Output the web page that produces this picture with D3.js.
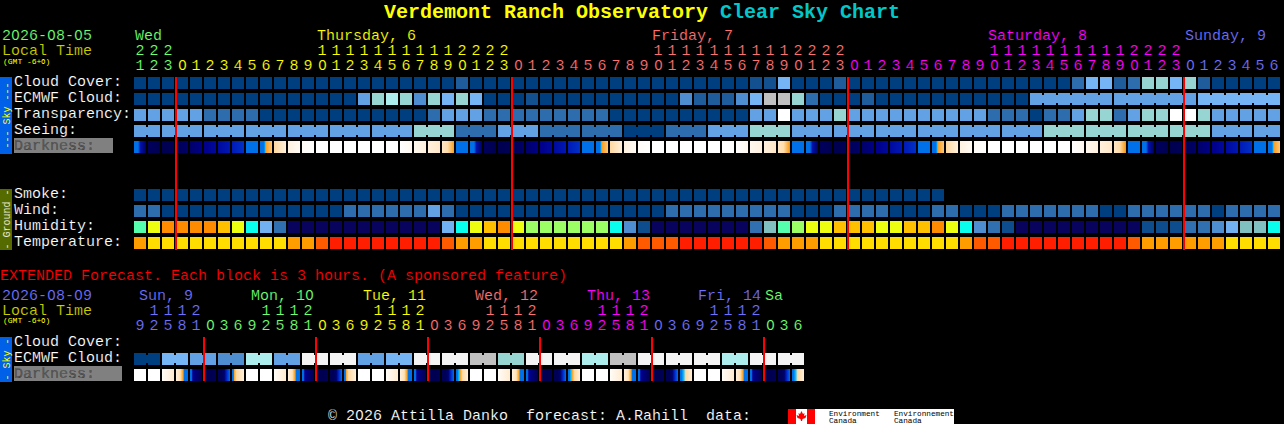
<!DOCTYPE html>
<html><head><meta charset="utf-8">
<style>
@font-face{font-family:PlainZero;src:local("DejaVu Sans");unicode-range:U+30;size-adjust:90%;}
html,body{margin:0;padding:0;background:#000;}
svg{display:block;}
text{font-family:PlainZero,"Liberation Mono",monospace;font-size:15px;white-space:pre;stroke:#000;stroke-width:.15px;}
text.title,text.small{stroke:none;}
rect{shape-rendering:crispEdges;}
</style>
<script src="https://cdn.jsdelivr.net/npm/d3@7/dist/d3.min.js"></script>
</head><body><svg id="c" width="1284" height="424"></svg>
<script>
const hours=[21,22,23,0,1,2,3,4,5,6,7,8,9,10,11,12,13,14,15,16,17,18,19,20,21,22,23,0,1,2,3,4,5,6,7,8,9,10,11,12,13,14,15,16,17,18,19,20,21,22,23,0,1,2,3,4,5,6,7,8,9,10,11,12,13,14,15,16,17,18,19,20,21,22,23,0,1,2,3,4,5,6];
const hourDays=[0,0,0,1,1,1,1,1,1,1,1,1,1,1,1,1,1,1,1,1,1,1,1,1,1,1,1,2,2,2,2,2,2,2,2,2,2,2,2,2,2,2,2,2,2,2,2,2,2,2,2,3,3,3,3,3,3,3,3,3,3,3,3,3,3,3,3,3,3,3,3,3,3,3,3,4,4,4,4,4,4,4];
const dayColors=["#70ff70","#ffff00","#ff7070","#ff00ff","#7070ff"];
const dayLabels=[["Wed",135,0],["Thursday, 6",317,1],["Friday, 7",652,2],["Saturday, 8",988,3],["Sunday, 9",1185,4]];

const cloudPalette=["#003f7f","#13508f","#1f5c9b","#2d6dae","#4e8ed0","#62a1e3","#75b5f6","#97d5d3","#aeeded","#f4f4f4","#c0c0c0","#ffffff"];
const humidityPalette=["#08035d","#0d4d8d","#3070b0","#4e8ed0","#71b1f2","#80c0c0","#09feed","#55fead","#9afe64","#eefe10","#ffc000","#ff8c00"];
const tempPalette=["#ff1e00","#ff5a00","#ff9d00","#ffdd00"];

const cloudCover=[0,0,0,0,0,0,0,0,0,0, 0,0,0,0,0,0,0,0,0,0, 0,0,0,2,0,0,0,0,0,0, 0,0,0,0,0,0,0,0,0,0, 0,0,0,0,1,1,6,0,0,0, 2,0,0,0,0,0,0,0,0,0, 0,0,0,0,0,0,0,3,6,6, 2,3,7,7,6,7,2,0,0,0,0,0];
const ecmwfCloud=[0,0,0,0,0,0,0,0,0,0, 0,0,0,0,0,0,5,7,8,7, 4,7,6,7,6,0,0,0,1,0, 0,0,0,0,0,0,0,0,0,4, 2,2,2,4,6,10,10,7,3,0, 0,0,2,0,0,0,0,0,0,0, 0,0,0,0,5,5,5,5,5,5, 5,5,5,5,5,5,6,6,6,6,6,6];
const ecmwfJoinedRuns=[[64,69],[70,75],[76,81]];
const transparency=[5,5,5,5,5,3,3,3,3,0, 0,0,0,0,0,0,0,0,0,0, 0,3,5,5,5,3,3,3,3,3, 3,3,3,3,0,0,0,0,0,0, 0,0,0,0,5,5,11,5,5,5, 7,5,5,5,5,5,5,5,5,5, 5,3,3,3,0,3,3,5,7,7, 3,5,7,7,11,11,7,5,5,5,5,5];
const seeing=[5,5,5,5,5,5,5,5,5,5, 5,5,5,5,5,5,5,5,5,5, 7,7,7,3,3,3,5,5,5,3, 3,3,3,3,3,0,0,0,3,3, 3,5,5,5,7,7,7,5,5,5, 5,5,5,5,5,5,5,5,5,5, 5,5,5,5,5,7,7,7,7,7, 7,7,7,7,7,7,7,5,5,5,5,5];
const seeingRuns=[[0,1],[2,4],[5,7],[8,10],[11,13],[14,16],[17,19],[20,22],[23,25],[26,28],[29,31],[32,34],[35,37],[38,40],[41,43],[44,46],[47,49],[50,52],[53,55],[56,58],[59,61],[62,64],[65,67],[68,70],[71,73],[74,76],[77,79],[80,81]];
const smoke=[0,0,0,0,0,0,0,0,0,0, 0,0,0,0,0,0,0,0,0,0, 0,0,0,0,0,0,0,0,0,0, 0,0,0,0,0,0,0,0,0,0, 0,0,0,0,0,0,0,0,0,0, 0,0,0,0,0,0,0,0];
const wind=[3,3,0,0,0,0,0,0,0,0, 0,0,0,0,0,3,3,3,3,3, 3,5,3,0,0,0,0,0,0,0, 0,0,0,0,0,0,0,0,3,3, 3,3,3,3,3,3,3,0,0,0, 3,3,3,3,0,0,0,3,3,0, 0,0,3,3,3,3,3,3,3,0, 0,3,3,3,3,3,3,0,3,3,3,3];
const humidity=[7,9,11,11,11,11,10,9,6,4, 2,0,0,0,0,0,0,0,0,0, 0,0,4,6,9,10,11,9,8,8, 8,8,8,8,6,3,1,0,0,0, 0,0,0,0,2,5,7,8,9,9, 10,10,10,9,9,10,10,11,9,6, 3,2,1,0,0,0,0,0,0,0, 0,0,1,1,1,2,2,3,4,5,5,6];
const temperature=[2,3,3,3,3,3,3,3,3,3, 3,2,2,1,0,0,0,0,0,0, 0,0,1,2,2,3,3,3,3,3, 3,3,3,3,3,2,1,1,1,0, 0,0,0,0,0,1,2,2,2,3, 3,3,3,3,3,3,3,3,3,2, 1,1,0,0,0,0,0,0,0,0, 0,1,2,2,2,2,2,2,3,3,3,3];

const darkLevels=[0,1,2,3,4,5,6,7,8];
const darkColors=["#000050","#000090","#0020c0","#0070e8","#00c0ff","#f8a020","#ffd8a0","#fff0dc","#ffffff"];
const darkness=[[0,3],[.29,3],[.45,1.6],[.857,.3],[1,.2],[2,0],[3,.1],[4,.4],[5,.9],[6,1.3],[7,1.8],[7.857,2.2],[8,3],[8.857,3],[9.29,3],[9.36,4],[9.43,5],[9.857,5.7],[10,6],[10.857,7],[12,7.8],[13,8],[19,8],[20,7.5],[21,7],[22,6.6],[22.4,6.2],[22.857,5],
[23,3],[24,3],[24.29,3],[24.45,1.6],[24.857,.3],[25,.2],[26,0],[27,.1],[28,.4],[29,.9],[30,1.3],[31,1.8],[31.857,2.2],[32,3],[32.857,3],[33.29,3],[33.36,4],[33.43,5],[33.857,5.7],[34,6],[34.857,7],[36,7.8],[37,8],[43,8],[44,7.5],[45,7],[46,6.6],[46.4,6.2],[46.8,5],[46.857,4.4],
[47,3],[48,3],[48.29,3],[48.45,1.6],[48.857,.3],[49,.2],[50,0],[51,.1],[52,.4],[53,.9],[54,1.3],[55,1.8],[55.857,2.2],[56,3],[56.857,3],[57.29,3],[57.36,4],[57.43,5],[57.857,5.7],[58,6],[58.857,7],[60,7.8],[61,8],[67,8],[68,7.5],[69,7],[70,6.6],[70.4,6.2],[70.8,5],[70.857,4.4],
[71,3],[72,3],[72.29,3],[72.45,1.6],[72.857,.3],[73,.2],[74,0],[75,.1],[76,.4],[77,.9],[78,1.3],[79,1.8],[79.857,2.2],[80,3],[80.857,3],[81.29,3],[81.36,4],[81.43,5],[81.857,5.7]];

const extHours=[9,12,15,18,21,0,3,6,9,12,15,18,21,0,3,6,9,12,15,18,21,0,3,6,9,12,15,18,21,0,3,6,9,12,15,18,21,0,3,6,9,12,15,18,21,0,3,6];
const extDays=[0,0,0,0,0,1,1,1,1,1,1,1,1,2,2,2,2,2,2,2,2,3,3,3,3,3,3,3,3,4,4,4,4,4,4,4,4,5,5,5,5,5,5,5,5,6,6,6];
const extColors=["#7070ff","#70ff70","#ffff00","#ff7070","#ff00ff","#7070ff","#70ff70"];
const extLabels=[["Sun, 9",139,0],["Mon, 10",251,1],["Tue, 11",363,2],["Wed, 12",475,3],["Thu, 13",587,4],["Fri, 14",698,5],["Sa",765,6]];
const extCloud=[0,0,6,6,5,5,4,4,8,8,5,5,9,9,9,9,5,5,6,6,9,9,9,9,10,10,7,7,9,9,9,9,8,8,10,10,9,9,9,9,9,9,8,8,9,9,9,9];
const extRuns=[[0,1],[2,3],[4,5],[6,7],[8,9],[10,11],[12,13],[14,15],[16,17],[18,19],[20,21],[22,23],[24,25],[26,27],[28,29],[30,31],[32,33],[34,35],[36,37],[38,39],[40,41],[42,43],[44,45],[46,47]];
const extDarkness=[[0,8],[1.857,8],[2,7.8],[2.857,6.8],[3,7],[3.3,6.4],[3.5,5],[3.6,3],[4.1,3],[4.2,1],[4.857,0],
[6.2,.1],[6.45,.4],[6.6,2],[6.857,3],[7.1,3],[7.15,5],[7.3,6],[7.857,7],[8,8],[9.857,8],[10,7.8],[10.857,6.8],[11,7],[11.3,6.4],[11.5,5],[11.6,3],[12.1,3],[12.2,1],[12.857,0],
[14.2,.1],[14.45,.4],[14.6,2],[14.857,3],[15.1,3],[15.15,5],[15.3,6],[15.857,7],[16,8],[17.857,8],[18,7.8],[18.857,6.8],[19,7],[19.3,6.4],[19.5,5],[19.6,3],[20.1,3],[20.2,1],[20.857,0],
[22.2,.1],[22.45,.4],[22.6,2],[22.857,3],[23.1,3],[23.2,4],[23.3,5],[23.45,6],[23.857,7],[24,8],[25.857,8],[26,7.8],[26.857,6.8],[27,7],[27.3,6.4],[27.5,5],[27.6,3],[28.1,3],[28.2,1],[28.857,0],
[30.2,.1],[30.45,.4],[30.6,2],[30.857,3],[31.1,3],[31.2,4],[31.3,5],[31.45,6],[31.857,7],[32,8],[33.857,8],[34,7.8],[34.857,6.8],[35,7],[35.3,6.4],[35.5,5],[35.6,3],[36.1,3],[36.2,1],[36.857,0],
[38.2,.1],[38.45,.4],[38.6,2],[38.857,3],[39.1,3],[39.25,4],[39.4,6],[39.857,7],[40,8],[41.857,8],[42,7.8],[42.857,6.8],[43,7],[43.3,6.4],[43.5,5],[43.6,3],[44.1,3],[44.2,1],[44.857,0],
[46.2,.1],[46.45,.4],[46.6,2],[46.857,3],[47.1,3],[47.25,4],[47.4,6],[47.857,7]];

const midnightCells=[3,27,51,75];
const extMidnightCells=[5,13,21,29,37,45];

const svg=d3.select("#c");
const x=d3.scaleLinear().domain([0,1]).range([134,148]);
const cellW=12, cellH=12;
const cloudColor=d3.scaleOrdinal(d3.range(cloudPalette.length),cloudPalette);
const humColor=d3.scaleOrdinal(d3.range(humidityPalette.length),humidityPalette);
const tempColor=d3.scaleOrdinal(d3.range(tempPalette.length),tempPalette);
const darkColor=d3.scaleLinear().domain(darkLevels).range(darkColors);

function label(t,px,py,fill,opts={}){
  const s=svg.append("text").attr("x",px).attr("y",py).attr("fill",fill).text(t);
  if(opts.size)s.attr("class","small").style("font-size",opts.size+"px");
  return s;
}
function strip(x0,y0,h,color,txt,txtColor){
  svg.append("rect").attr("x",x0).attr("y",y0).attr("width",12).attr("height",h).attr("fill",color);
  svg.append("text").attr("class","small").attr("transform",`translate(${x0+9.5},${y0+h/2}) rotate(-90)`)
    .attr("text-anchor","middle").attr("fill",txtColor).style("font-size","10px").text(txt);
}
function row(vals,yTop,scale,runs){
  const g=svg.append("g");
  g.selectAll("rect.cell").data(vals).join("rect").attr("class","cell")
   .attr("x",(d,i)=>x(i)).attr("y",yTop).attr("width",cellW).attr("height",cellH)
   .attr("fill",d=>scale(d));
  if(runs){
    const links=[];
    runs.forEach(([a,b])=>{for(let i=a;i<b;i++)links.push(i);});
    g.selectAll("rect.link").data(links).join("rect").attr("class","link")
     .attr("x",i=>x(i)+cellW).attr("y",yTop+2).attr("width",x(1)-x(0)-cellW).attr("height",cellH-4)
     .attr("fill",i=>scale(vals[i]));
  }
}
function darkRow(knots,count,yTop,id){
  const first=x(0), last=x(count);
  const grad=svg.append("defs").append("linearGradient").attr("id",id)
    .attr("gradientUnits","userSpaceOnUse").attr("x1",first).attr("x2",last).attr("y1",0).attr("y2",0);
  grad.selectAll("stop").data(knots).join("stop")
    .attr("offset",d=>(x(d[0])-first)/(last-first))
    .attr("stop-color",d=>darkColor(d[1]));
  svg.append("g").selectAll("rect").data(d3.range(count)).join("rect")
    .attr("x",i=>x(i)).attr("y",yTop).attr("width",cellW).attr("height",cellH)
    .attr("fill",`url(#${id})`);
}
function hourRows(hs,days,colors,yTens,yOnes){
  const g=svg.append("g");
  g.selectAll("text.t").data(hs.map((h,i)=>({h,i})).filter(d=>d.h>=10)).join("text").attr("class","t")
    .attr("x",d=>x(d.i)+6).attr("y",yTens).attr("text-anchor","middle")
    .attr("fill",d=>colors[days[d.i]]).text(d=>Math.floor(d.h/10));
  g.selectAll("text.o").data(hs.map((h,i)=>({h,i}))).join("text").attr("class","o")
    .attr("x",d=>x(d.i)+6).attr("y",yOnes).attr("text-anchor","middle")
    .attr("fill",d=>colors[days[d.i]]).text(d=>d.h%10);
}

// Title
const title=svg.append("text").attr("class","title").attr("x",384).attr("y",18).style("font-size","20px").style("font-weight","bold");
title.append("tspan").attr("fill","#ffff00").text("Verdemont Ranch Observatory ");
title.append("tspan").attr("fill","#00c8c8").text("Clear Sky Chart");

// Main header
label("2026-08-05",2,40,dayColors[0]);
label("Local Time",2,55,"#cccc00");
label("(GMT -6+0)",3,64,"#ffff00",{size:8});
dayLabels.forEach(([t,px,c])=>label(t,px,40,dayColors[c]));
hourRows(hours,hourDays,dayColors,55,70);

// Sky
strip(0,77,77,"#0060e8","--- Sky ---","#ffff00");
[["Cloud Cover:",86],["ECMWF Cloud:",102],["Transparency:",118],["Seeing:",134]].forEach(([t,y])=>label(t,14,y,"#ffffff"));
svg.append("rect").attr("x",14).attr("y",138).attr("width",99).attr("height",15).attr("fill","#808080");
label("Darkness:",14,150,"#5c5c5c");
row(cloudCover,77,cloudColor);
row(ecmwfCloud,93,cloudColor,ecmwfJoinedRuns);
row(transparency,109,cloudColor);
row(seeing,125,cloudColor,seeingRuns);
darkRow(darkness,82,141,"dk");

// Ground
strip(0,189,61,"#556b00","- Ground -","#e8e8d0");
[["Smoke:",198],["Wind:",214],["Humidity:",230],["Temperature:",246]].forEach(([t,y])=>label(t,14,y,"#ffffff"));
row(smoke,189,cloudColor);
row(wind,205,cloudColor);
row(humidity,221,humColor);
row(temperature,237,tempColor);

svg.append("g").selectAll("rect").data(midnightCells).join("rect")
  .attr("x",c=>x(c)-1).attr("y",77).attr("width",2).attr("height",173).attr("fill","#ff0000");

// Extended
label("EXTENDED Forecast. Each block is 3 hours. (A sponsored feature)",0,280,"#ff0000");
label("2026-08-09",2,300,extColors[0]);
label("Local Time",2,315,"#cccc00");
label("(GMT -6+0)",3,323,"#ffff00",{size:8});
extLabels.forEach(([t,px,c])=>label(t,px,300,extColors[c]));
hourRows(extHours,extDays,extColors,315,330);
strip(0,337,45,"#0060e8","- Sky -","#ffff00");
[["Cloud Cover:",346],["ECMWF Cloud:",362]].forEach(([t,y])=>label(t,14,y,"#ffffff"));
svg.append("rect").attr("x",14).attr("y",366).attr("width",108).attr("height",15).attr("fill","#808080");
label("Darkness:",14,378,"#5c5c5c");
row(extCloud,353,cloudColor,extRuns);
darkRow(extDarkness,48,369,"dkx");
svg.append("g").selectAll("rect").data(extMidnightCells).join("rect")
  .attr("x",c=>x(c)-1).attr("y",337).attr("width",2).attr("height",44).attr("fill","#ff0000");

// Footer
label("\u00a9 2026 Attilla Danko  forecast: A.Rahill  data:",328,420,"#ffffff");
svg.append("rect").attr("x",788).attr("y",409).attr("width",166).attr("height",15).attr("fill","#ffffff");
svg.append("rect").attr("x",788).attr("y",409).attr("width",8).attr("height",15).attr("fill","#ff0000");
svg.append("rect").attr("x",807).attr("y",409).attr("width",8).attr("height",15).attr("fill","#ff0000");
svg.append("path").attr("transform","translate(801.5,417)")
  .attr("d","M0,-6L1.5,-3L3,-4L2.5,-1L5,-2L4,1L1,2L0.5,4H-0.5L-1,2L-4,1L-5,-2L-2.5,-1L-3,-4L-1.5,-3Z").attr("fill","#ff0000");
[["Environment",829,415.5],["Canada",829,422.5],["Environnement",894,415.5],["Canada",894,422.5]].forEach(([t,px,py])=>
  label(t,px,py,"#000000",{size:7.7}));
</script></body></html>
